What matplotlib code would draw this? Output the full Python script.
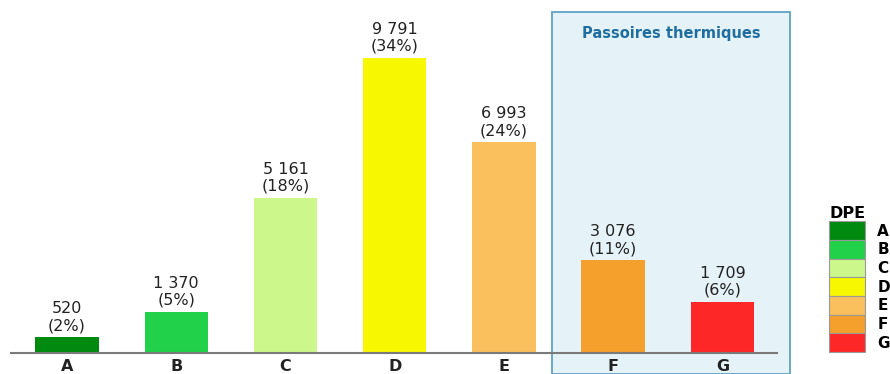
import matplotlib.pyplot as plt
from matplotlib.patches import Rectangle, Patch

plt.rcParams['font.family'] = ['DejaVu Sans']

classes = ["A", "B", "C", "D", "E", "F", "G"]
counts = [520, 1370, 5161, 9791, 6993, 3076, 1709]
shares = [2, 5, 18, 34, 24, 11, 6]
colors = ["#008a0f", "#22d14a", "#ccf88b", "#f7f702", "#fac05d", "#f59f2c", "#fe2727"]

fig = plt.figure(figsize=(8.9, 3.74), dpi=100)
ax = fig.add_axes([11 / 890, 21 / 374, 766 / 890, 353 / 374])
ax.set_facecolor("none")

x = list(range(len(classes)))
ax.bar(x, counts, width=0.58, color=colors, zorder=3)

for xi, c, s in zip(x, counts, shares):
    txt = f"{c:,}".replace(",", " ") + f"\n({s}%)"
    ax.annotate(txt, (xi, c), xytext=(0, 3), textcoords="offset points",
                ha="center", va="bottom", fontsize=11.5, color="#222222",
                linespacing=1.15, zorder=4)

# "passoires thermiques" highlight box (F and G)
box = Rectangle((4.44, -700), 2.18, 12020, facecolor="#e5f3f8",
                edgecolor="#5fa3c6", linewidth=1.3, clip_on=False, zorder=1)
ax.add_patch(box)
ax.text(5.53, 10600, "Passoires thermiques", ha="center", va="center",
        fontsize=10.5, fontweight="bold", color="#1f6e9f", zorder=4)

ax.set_xlim(-0.513, 6.5)
ax.set_ylim(0, 11716)
ax.set_xticks(x)
ax.set_xticklabels(classes, fontsize=11.5, fontweight="bold", color="#222222")
ax.tick_params(axis="x", length=0, pad=4)
ax.set_yticks([])
for side in ["left", "right", "top"]:
    ax.spines[side].set_visible(False)
ax.spines["bottom"].set_color("#7a7a7a")
ax.spines["bottom"].set_linewidth(1.5)
ax.spines["bottom"].set_zorder(5)

handles = [Patch(facecolor=col, edgecolor="#999999", linewidth=0.8) for col in colors]
leg = fig.legend(handles, classes, loc="lower left", bbox_to_anchor=(823 / 890, 16 / 374),
                 frameon=False, title="DPE", handlelength=2.36, handleheight=1.5,
                 labelspacing=0, handletextpad=0.8, borderaxespad=0,
                 prop={"size": 11, "weight": "bold"},
                 title_fontproperties={"size": 11.5, "weight": "bold"})
leg._legend_box.align = "left"

fig.savefig("out.png", dpi=100)
